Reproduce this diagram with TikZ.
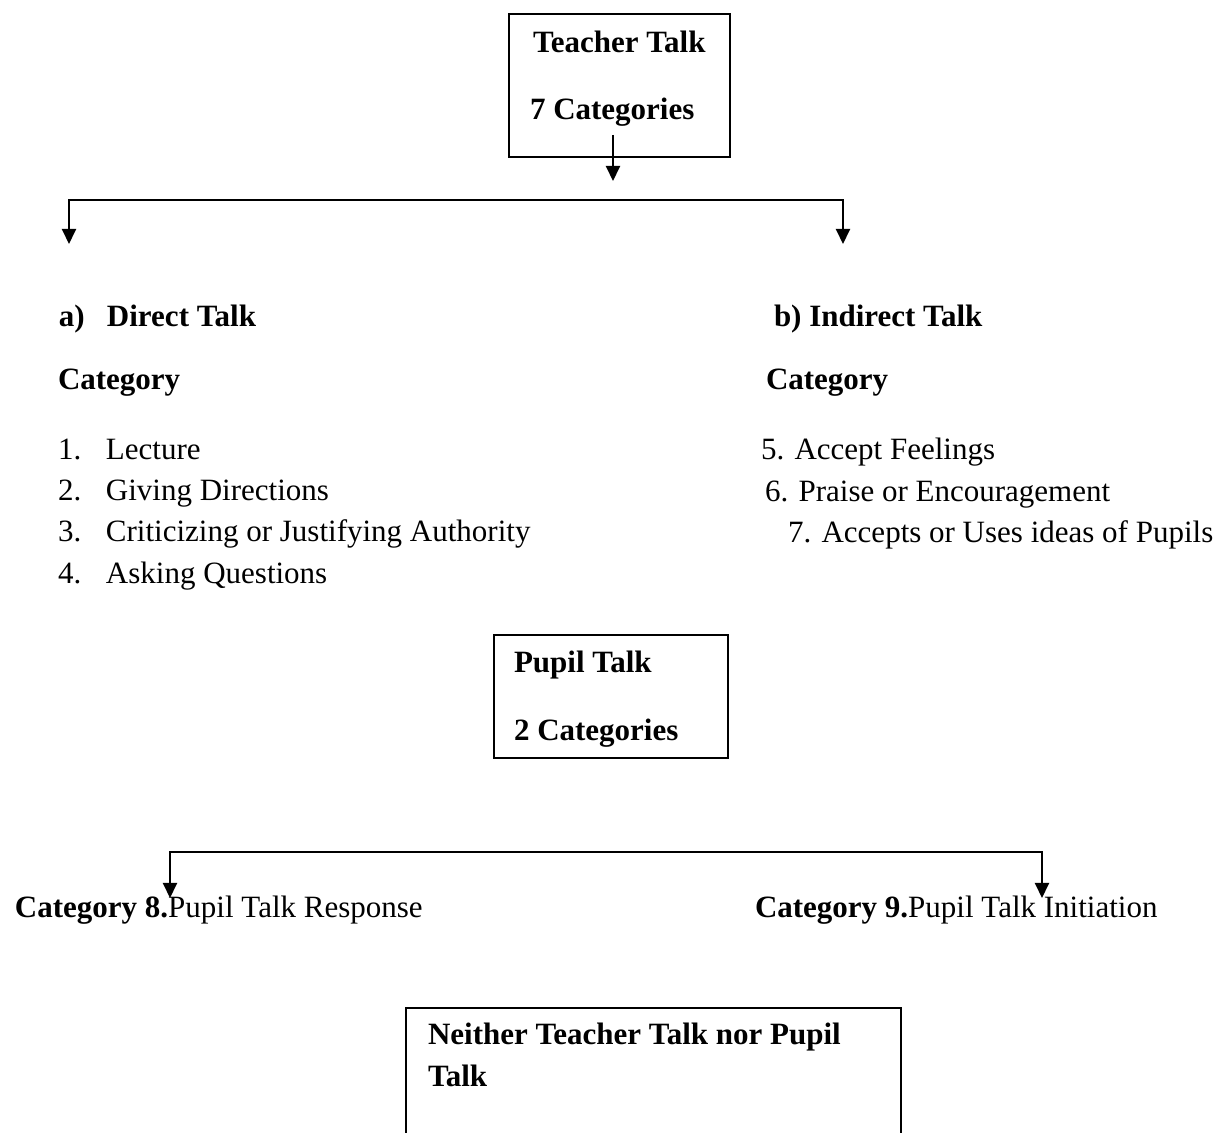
\documentclass[tikz,border=0pt]{standalone}
\usepackage{fontspec}
\setmainfont{Liberation Serif}
\usetikzlibrary{arrows.meta}

\newcommand{\lnum}[1]{\makebox[24pt][l]{#1}}

\tikzset{
  catbox/.style={draw, line width=1pt, inner sep=0pt, anchor=north west},
  txt/.style={anchor=base west, inner sep=0pt, font=\fontsize{15.5}{18}\selectfont},
  head/.style={txt, font=\fontsize{15.5}{18}\selectfont\bfseries},
}

\begin{document}
\begin{tikzpicture}[x=0.5pt, y=-0.5pt, line width=1pt, >={Triangle[width=7pt,length=7.5pt]}]
  \clip (0,0) rectangle (1223,1133);

  \node[catbox, minimum width=110.5pt, minimum height=71.5pt] (teacher) at (508,13) {};
  \node[head] (tt1) at (532,53)  {Teacher Talk};
  \node[head] (tt2) at (529,120) {7 Categories};

  \coordinate (tFrom) at (613,135);
  \coordinate (tTo)   at (613,181);
  \draw[->] (tFrom) -- (tTo);

  \coordinate (dirTip) at (69,244);
  \coordinate (indTip) at (843,244);
  \draw[<->] (dirTip) -- ++(0,-44) -| (indTip);

  \node[head] (direct) at (58,327) {\lnum{a)}Direct Talk};
  \node[head] (dcat)   at (57,390) {Category};
  \node[txt]  (d1)     at (57,460) {\lnum{1.}Lecture};
  \node[txt]  (d2)     at (57,501) {\lnum{2.}Giving Directions};
  \node[txt]  (d3)     at (57,542) {\lnum{3.}Criticizing or Justifying Authority};
  \node[txt]  (d4)     at (57,584) {\lnum{4.}Asking Questions};

  \node[head] (indirect) at (773,327) {b) Indirect Talk};
  \node[head] (icat)     at (765,390) {Category};
  \node[txt]  (i5)       at (760,460) {5. Accept Feelings};
  \node[txt]  (i6)       at (764,502) {6. Praise or Encouragement};
  \node[txt]  (i7)       at (787,543) {7. Accepts or Uses ideas of Pupils};

  \node[catbox, minimum width=117pt, minimum height=61.5pt] (pupil) at (493,634) {};
  \node[head] (pt1) at (513,673) {Pupil Talk};
  \node[head] (pt2) at (513,741) {2 Categories};

  \coordinate (respTip) at (170,898);
  \coordinate (initTip) at (1042,898);
  \draw[<->] (respTip) -- ++(0,-46) -| (initTip);

  \node[txt] (c8) at (14,918)  {\textbf{Category 8.}Pupil Talk Response};
  \node[txt] (c9) at (754,918) {\textbf{Category 9.}Pupil Talk Initiation};

  \node[catbox, minimum width=247.5pt, minimum height=100pt] (neither) at (405,1007) {};
  \node[head] (nt1) at (427,1045) {Neither Teacher Talk nor Pupil};
  \node[head] (nt2) at (427,1087) {Talk};
\end{tikzpicture}
\end{document}
